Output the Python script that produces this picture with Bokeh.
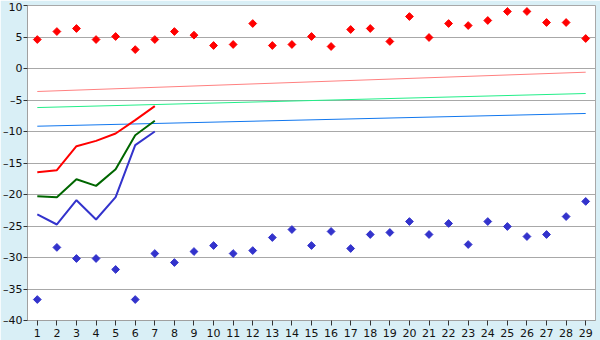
import math
from bokeh.plotting import figure
from bokeh.models import FactorRange, Range1d, FixedTicker
from bokeh.embed import file_html
from bokeh.resources import INLINE

days = [str(i) for i in range(1, 30)]

high_pts = [4.6, 5.87, 6.35, 4.6, 5.08, 3.0, 4.6, 5.87, 5.29, 3.65,
            3.81, 7.14, 3.65, 3.81, 5.08, 3.49, 6.19, 6.35, 4.29, 8.25,
            4.92, 7.14, 6.82, 7.62, 9.05, 9.05, 7.3, 7.3, 4.76]
low_pts = [-36.67, -28.4, -30.16, -30.16, -31.9, -36.67, -29.37, -30.8, -29.05, -28.1,
           -29.37, -28.9, -26.83, -25.56, -28.1, -25.87, -28.57, -26.35, -26.03, -24.29,
           -26.35, -24.6, -27.94, -24.29, -25.08, -26.67, -26.35, -23.5, -21.1]

obs_days = days[:7]
obs_max = [-16.46, -16.14, -12.33, -11.49, -10.32, -8.2, -5.98]
obs_mean = [-20.27, -20.43, -17.57, -18.63, -15.98, -10.59, -8.3]
obs_min = [-23.17, -24.76, -20.9, -23.97, -20.43, -12.17, -10.0]

trend_days = ["1", "29"]
trend_max = [-3.65, -0.59]
trend_mean = [-6.2, -3.97]
trend_min = [-9.16, -7.14]

y_ticks = [-40, -35, -30, -25, -20, -15, -10, -5, 0, 5, 10]

p = figure(width=600, height=340, output_backend="svg", toolbar_location=None,
           x_range=FactorRange(*days, range_padding=0), y_range=Range1d(-40, 10),
           min_border_left=26, min_border_right=5, min_border_top=5, min_border_bottom=20)

p.background_fill_color = "white"
p.border_fill_color = "#D9EFF6"
p.outline_line_color = "#A8A8A8"
p.xgrid.grid_line_color = None
p.ygrid.grid_line_color = "#A8A8A8"
p.ygrid.grid_line_width = 1

font = "DejaVu Sans"
p.yaxis.ticker = FixedTicker(ticks=y_ticks)
p.yaxis.major_label_overrides = {t: (str(t).replace("-", "\u2013")) for t in y_ticks}
for ax in (p.xaxis[0], p.yaxis[0]):
    ax.axis_line_color = "#A0A0A0"
    ax.major_tick_line_color = "#333333"
    ax.major_tick_in = 0
    ax.major_tick_out = 5
    ax.minor_tick_line_color = None
    ax.major_label_text_font = font
    ax.major_label_text_font_size = "11px"
    ax.major_label_text_color = "#111111"
p.yaxis.major_tick_out = 4
p.yaxis.major_label_standoff = 1
p.xaxis.major_label_standoff = 3

# trend lines
p.line(trend_days, trend_max, color="#FF8080", line_width=1)
p.line(trend_days, trend_mean, color="#22EE88", line_width=1)
p.line(trend_days, trend_min, color="#1177EE", line_width=1)

# observed lines
p.line(obs_days, obs_max, color="#FF0000", line_width=2)
p.line(obs_days, obs_mean, color="#006600", line_width=2)
p.line(obs_days, obs_min, color="#3333CC", line_width=2)

# extreme points
p.scatter(days, high_pts, marker="square", size=5.5, angle=math.pi / 4, color="#FF0000")
p.scatter(days, low_pts, marker="square", size=5.5, angle=math.pi / 4, color="#3333CC")

open("out.html", "w").write(file_html(p, INLINE))
